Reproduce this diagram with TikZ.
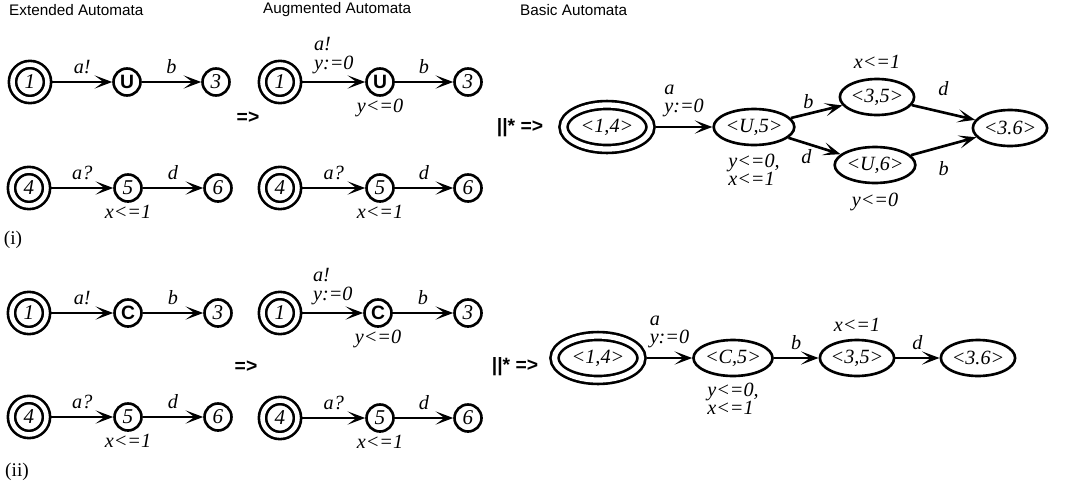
\documentclass[tikz,border=0pt]{standalone}
\usepackage{fontspec}
\setmainfont{Liberation Serif}
\setsansfont{Liberation Sans}
\usepackage{tikz}
\usetikzlibrary{shapes,arrows.meta,positioning}

\begin{document}
\begin{tikzpicture}[x=0.02cm, y=-0.02cm,
    state/.style={circle, draw, line width=1.5pt, minimum size=0.54cm, inner sep=0pt, font=\fontsize{12}{12}\selectfont\itshape},
    start/.style={state, double, double distance=2.6pt, minimum size=0.7cm, outer sep=2.8pt},
    urg/.style={state, font=\fontsize{11}{11}\selectfont\sffamily\bfseries},
    loc/.style={ellipse, draw, line width=1.5pt, minimum width=1.48cm, minimum height=0.72cm, inner sep=0pt, font=\fontsize{11.5}{11.5}\selectfont\itshape},
    startloc/.style={loc, double, double distance=3pt, minimum width=1.74cm, minimum height=0.88cm, outer sep=3pt},
    trans/.style={-{Stealth[length=10pt, width=7.5pt, inset=5pt]}, line width=1.5pt},
    lbl/.style={font=\fontsize{11.5}{10.5}\selectfont\itshape, inner sep=1pt, align=left},
    head/.style={font=\fontsize{8.7}{10}\selectfont\sffamily, anchor=west},
    derive/.style={font=\fontsize{11}{11}\selectfont\sffamily\bfseries}
]
\useasboundingbox (0,0) rectangle (1068,487);

% column titles
\node[head] (t-ext) at (3,10) {Extended Automata};
\node[head] (t-aug) at (257,10) {Augmented Automata};
\node[head] (t-bas) at (514,10) {Basic Automata};

%%% (i) urgent location U
\node[start] (ext-1) at (30,82) {1};
\node[urg] (ext-u) at (127,82) {U};
\node[state] (ext-3) at (216,82) {3};
\draw[trans] (ext-1) -- (ext-u) node[lbl, midway, above=3pt] {a!};
\draw[trans] (ext-u) -- (ext-3) node[lbl, midway, above=3pt] {b};

\node[start] (ext-4) at (29,188) {4};
\node[state, label={[lbl]below:x<=1}] (ext-5) at (128,188) {5};
\node[state] (ext-6) at (218,188) {6};
\draw[trans] (ext-4) -- (ext-5) node[lbl, midway, above=3pt] {a?};
\draw[trans] (ext-5) -- (ext-6) node[lbl, midway, above=3pt] {d};

\node[derive] (to-aug) at (248,118) {=>};

\node[start] (aug-1) at (280,82) {1};
\node[urg, label={[lbl]below:y<=0}] (aug-u) at (380,82) {U};
\node[state] (aug-3) at (468,82) {3};
\draw[trans] (aug-1) -- (aug-u) node[lbl, midway, above=3pt] {a!\\y:=0};
\draw[trans] (aug-u) -- (aug-3) node[lbl, midway, above=3pt] {b};

\node[start] (aug-4) at (280,188) {4};
\node[state, label={[lbl]below:x<=1}] (aug-5) at (380,188) {5};
\node[state] (aug-6) at (468,188) {6};
\draw[trans] (aug-4) -- (aug-5) node[lbl, midway, above=3pt] {a?};
\draw[trans] (aug-5) -- (aug-6) node[lbl, midway, above=3pt] {d};

\node[derive] (to-bas) at (520,128) {||* =>};

\node[startloc] (bas-14) at (607,127) {<1,4>};
\node[loc, label={[lbl, align=left, label distance=3pt]below:y<=0,\\x<=1}] (bas-u5) at (754,127) {<U,5>};
\node[loc, label={[lbl, label distance=4pt]above:x<=1}] (bas-35) at (877,97) {<3,5>};
\node[loc, label={[lbl, label distance=4pt]below:y<=0}] (bas-u6) at (875,165) {<U,6>};
\node[loc] (bas-36) at (1010,128) {<3.6>};
\draw[trans] (bas-14) -- (bas-u5) node[lbl, midway, above=4pt] {a\\y:=0};
\draw[trans] (bas-u5) -- (bas-35) node[lbl, midway, above left=0pt] {b};
\draw[trans] (bas-u5) -- (bas-u6) node[lbl, midway, below left=0pt] {d};
\draw[trans] (bas-35) -- (bas-36) node[lbl, midway, above=8pt] {d};
\draw[trans] (bas-u6) -- (bas-36) node[lbl, midway, below=7pt] {b};

\node[font=\fontsize{11}{11}\selectfont] (lbl-i) at (13,240) {(i)};

%%% (ii) committed location C
\node[start] (ext2-1) at (29,313) {1};
\node[urg] (ext2-c) at (128,313) {C};
\node[state] (ext2-3) at (218,313) {3};
\draw[trans] (ext2-1) -- (ext2-c) node[lbl, midway, above=3pt] {a!};
\draw[trans] (ext2-c) -- (ext2-3) node[lbl, midway, above=3pt] {b};

\node[start] (ext2-4) at (29,417) {4};
\node[state, label={[lbl]below:x<=1}] (ext2-5) at (128,417) {5};
\node[state] (ext2-6) at (218,417) {6};
\draw[trans] (ext2-4) -- (ext2-5) node[lbl, midway, above=3pt] {a?};
\draw[trans] (ext2-5) -- (ext2-6) node[lbl, midway, above=3pt] {d};

\node[derive] (to-aug2) at (246,367) {=>};

\node[start] (aug2-1) at (280,313) {1};
\node[urg, label={[lbl]below:y<=0}] (aug2-c) at (378,313) {C};
\node[state] (aug2-3) at (468,313) {3};
\draw[trans] (aug2-1) -- (aug2-c) node[lbl, midway, above=3pt] {a!\\y:=0};
\draw[trans] (aug2-c) -- (aug2-3) node[lbl, midway, above=3pt] {b};

\node[start] (aug2-4) at (280,418) {4};
\node[state, label={[lbl]below:x<=1}] (aug2-5) at (380,418) {5};
\node[state] (aug2-6) at (468,418) {6};
\draw[trans] (aug2-4) -- (aug2-5) node[lbl, midway, above=3pt] {a?};
\draw[trans] (aug2-5) -- (aug2-6) node[lbl, midway, above=3pt] {d};

\node[derive] (to-bas2) at (515,367) {||* =>};

\node[startloc] (bas2-14) at (598,358) {<1,4>};
\node[loc, label={[lbl, align=left, label distance=2pt]below:y<=0,\\x<=1}] (bas2-c5) at (733,358) {<C,5>};
\node[loc, label={[lbl, label distance=3pt]above:x<=1}] (bas2-35) at (857,358) {<3,5>};
\node[loc] (bas2-36) at (978,358) {<3.6>};
\draw[trans] (bas2-14) -- (bas2-c5) node[lbl, midway, above=4pt] {a\\y:=0};
\draw[trans] (bas2-c5) -- (bas2-35) node[lbl, midway, above=3pt] {b};
\draw[trans] (bas2-35) -- (bas2-36) node[lbl, midway, above=3pt] {d};

\node[font=\fontsize{11}{11}\selectfont] (lbl-ii) at (17,472) {(ii)};
\end{tikzpicture}
\end{document}
